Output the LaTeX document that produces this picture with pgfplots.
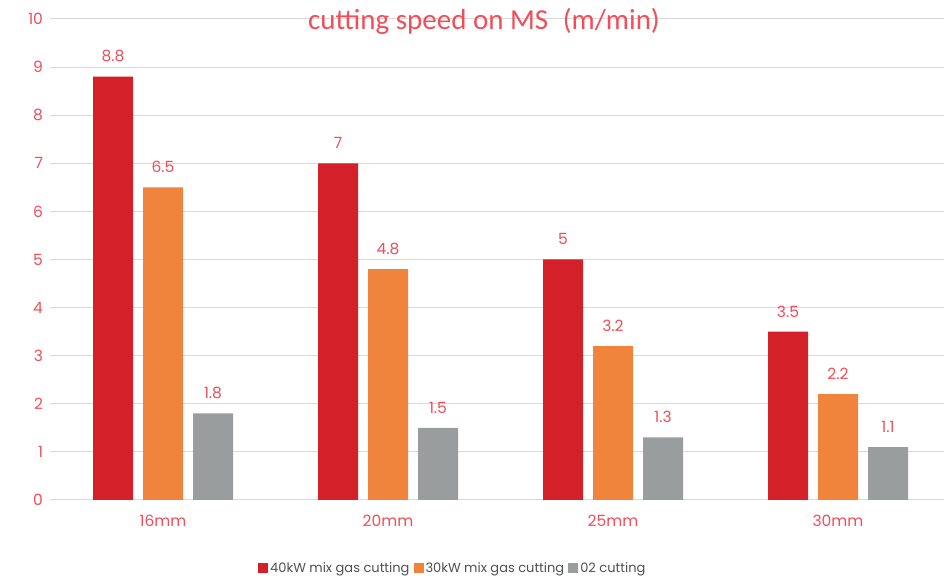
\documentclass[border=0pt]{standalone}
\usepackage{pgfplots}
\pgfplotsset{compat=1.18}
\usepackage{fontspec}
\setmainfont{Poppins}
\newfontfamily\titlefont{Carlito}
\definecolor{barred}{HTML}{D32029}
\definecolor{barorange}{HTML}{F0843C}
\definecolor{bargray}{HTML}{9A9D9D}
\definecolor{txtred}{HTML}{F04E58}
\definecolor{gridgray}{HTML}{D9D9D9}
\definecolor{legtxt}{HTML}{505050}
\begin{document}
\begin{tikzpicture}
\begin{axis}[
  at={(50.5pt,80pt)}, anchor=south west,
  scale only axis, width=900pt, height=481pt,
  xmin=-0.5, xmax=3.5, ymin=0, ymax=10,
  ybar, bar width=40pt,
  axis line style={draw=none},
  ytick={0,1,...,10},
  xtick={0,1,2,3},
  xticklabels={16mm,20mm,25mm,30mm},
  major tick length=0pt,
  ymajorgrids, grid style={gridgray, line width=1pt},
  tick label style={txtred, font=\fontsize{15.5}{18}\selectfont},
  /pgf/number format/assume math mode=true,
  yticklabel style={xshift=-4pt},
  xticklabel style={yshift=-12pt},
  nodes near coords,
  every node near coord/.append style={txtred, font=\fontsize{15.5}{18}\selectfont, yshift=11pt},
  legend columns=3,
  legend style={draw=none, at={(axis description cs:0.447,-0.141)}, anchor=center,
    font=\fontsize{13}{15}\selectfont, text=legtxt,
    /tikz/every even column/.append style={column sep=2pt}},
  legend image code/.code={\fill[#1] (0pt,-5pt) rectangle (10pt,5pt);},
  clip=false,
]
\addplot[fill=barred, draw=none, bar shift=-50pt] coordinates {(0,8.8) (1,7) (2,5) (3,3.5)};
\addplot[fill=barorange, draw=none, bar shift=0pt] coordinates {(0,6.5) (1,4.8) (2,3.2) (3,2.2)};
\addplot[fill=bargray, draw=none, bar shift=50pt] coordinates {(0,1.8) (1,1.5) (2,1.3) (3,1.1)};
\legend{40kW mix gas cutting,30kW mix gas cutting,02 cutting}
\end{axis}
\node[txtred, font=\titlefont\fontsize{29}{33}\selectfont] at (484pt,559pt) {cutting speed on MS\enspace(m/min)};
\pgfresetboundingbox
\path (0,0) rectangle (944pt,580pt);
\end{tikzpicture}
\end{document}
